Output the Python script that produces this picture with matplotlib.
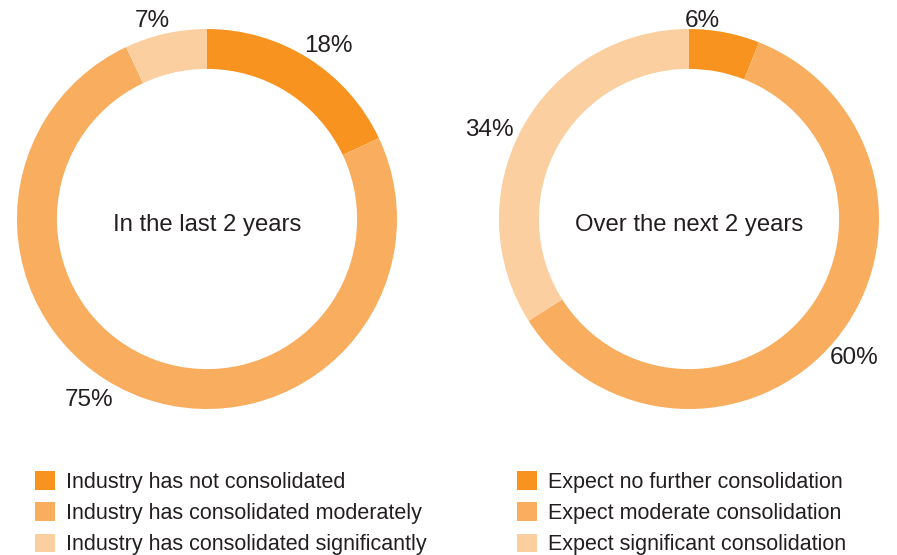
import matplotlib
matplotlib.use("Agg")
import matplotlib.pyplot as plt
from matplotlib.patches import Patch

plt.rcParams['font.family'] = ['Liberation Sans', 'DejaVu Sans']

# === data ===
past_labels = ["Industry has not consolidated",
               "Industry has consolidated moderately",
               "Industry has consolidated significantly"]
past_values = [18, 75, 7]

future_labels = ["Expect no further consolidation",
                 "Expect moderate consolidation",
                 "Expect significant consolidation"]
future_values = [6, 60, 34]

titles = ["In the last 2 years", "Over the next 2 years"]

# === style ===
COLORS = ["#F7931E", "#F9AD5F", "#FBCFA0"]
TEXT = "#231F20"
# where the % labels sit (donut radius units), picked by eye
past_label_pos = [(0.64, 0.91), (-0.62, -0.95), (-0.29, 1.04)]
future_label_pos = [(0.07, 1.04), (0.87, -0.73), (-1.05, 0.47)]

fig = plt.figure(figsize=(8.97, 5.55), dpi=100)
W, H = 897, 555


def donut(cx, cy, values, title, label_pos):
    r = 190
    ax = fig.add_axes([(cx - r) / W, (H - cy - r) / H, 2 * r / W, 2 * r / H])
    ax.pie(values, colors=COLORS, startangle=90, counterclock=False,
           radius=1.0, wedgeprops=dict(width=0.21, linewidth=0))
    ax.set_xlim(-1, 1)
    ax.set_ylim(-1, 1)
    ax.set_aspect('equal')
    ax.axis('off')
    ax.text(0, -0.03, title, ha='center', va='center', fontsize=17.2, color=TEXT)
    for v, (x, y) in zip(values, label_pos):
        ax.text(x, y, f"{v}%", ha='center', va='center', fontsize=17.5,
                color=TEXT, clip_on=False)
    return ax


donut(207, 219, past_values, titles[0], past_label_pos)
donut(689, 219, future_values, titles[1], future_label_pos)


def legend(x, labels):
    handles = [Patch(facecolor=c, edgecolor='none') for c in COLORS]
    fig.legend(handles, labels, loc='upper left', bbox_to_anchor=(x / W, 1 - 471 / H),
               frameon=False, fontsize=15.5, handlelength=0.95, handleheight=0.95,
               handletextpad=0.5, labelspacing=0.45, borderaxespad=0,
               borderpad=0, labelcolor=TEXT)


legend(35, past_labels)
legend(517, future_labels)

fig.savefig("out.png", dpi=100)
